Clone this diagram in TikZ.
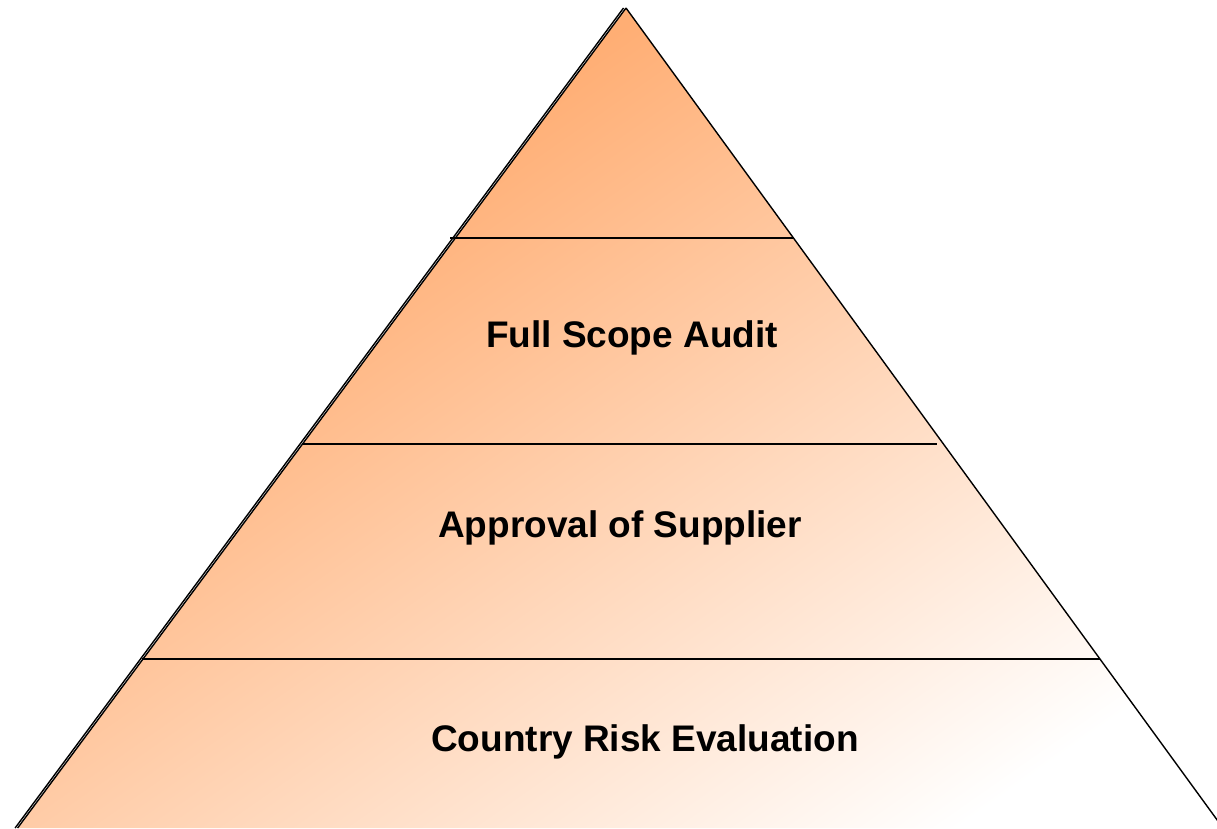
\documentclass[tikz,border=0pt]{standalone}
\usepackage{fontspec}
\setmainfont{Liberation Sans}
\definecolor{pyrorange}{RGB}{255,174,116}
\pgfdeclareverticalshading{pyrshade}{100bp}{color(0bp)=(white); color(37.8bp)=(white); color(62.2bp)=(pyrorange); color(100bp)=(pyrorange)}
\tikzset{
  edgeline/.style={draw=black, line width=1.4pt},
  divline/.style={draw=black, line width=1.5pt},
  lbl/.style={font=\bfseries\fontsize{37}{44}\selectfont, anchor=base, inner sep=0pt}
}
\begin{document}
\begin{tikzpicture}[x=1pt,y=-1pt]
\useasboundingbox (0,0) rectangle (1217,828);
\coordinate (apex) at (626,8);
\coordinate (apexo) at (623.5,8);
\coordinate (br) at (1223,828);
\coordinate (bl) at (17.6,828);
\coordinate (blo) at (15.1,828);
\begin{scope}
  \clip (apex) -- (br) -- (bl) -- cycle;
  \shade[shading=pyrshade, shading angle=35] (7,-503) rectangle (1747,1237);
\end{scope}
% divisions
\coordinate (d1l) at (450,238);  \coordinate (d1r) at (793,238);
\coordinate (d2l) at (302,444);  \coordinate (d2r) at (937,444);
\coordinate (d3l) at (142,659);  \coordinate (d3r) at (1100,659);
\draw[divline] (d1l) -- (d1r);
\draw[divline] (d2l) -- (d2r);
\draw[divline] (d3l) -- (d3r);
% edges
\draw[edgeline] (apex) -- (br);
\draw[edgeline] (apex) -- (bl);
\draw[edgeline] (apexo) -- (blo);
% labels
\node[lbl] (fsa) at (632,347.5) {Full Scope Audit};
\node[lbl] (aos) at (620,537) {Approval of Supplier};
\node[lbl] (cre) at (645,751.5) {Country Risk Evaluation};
\end{tikzpicture}
\end{document}
